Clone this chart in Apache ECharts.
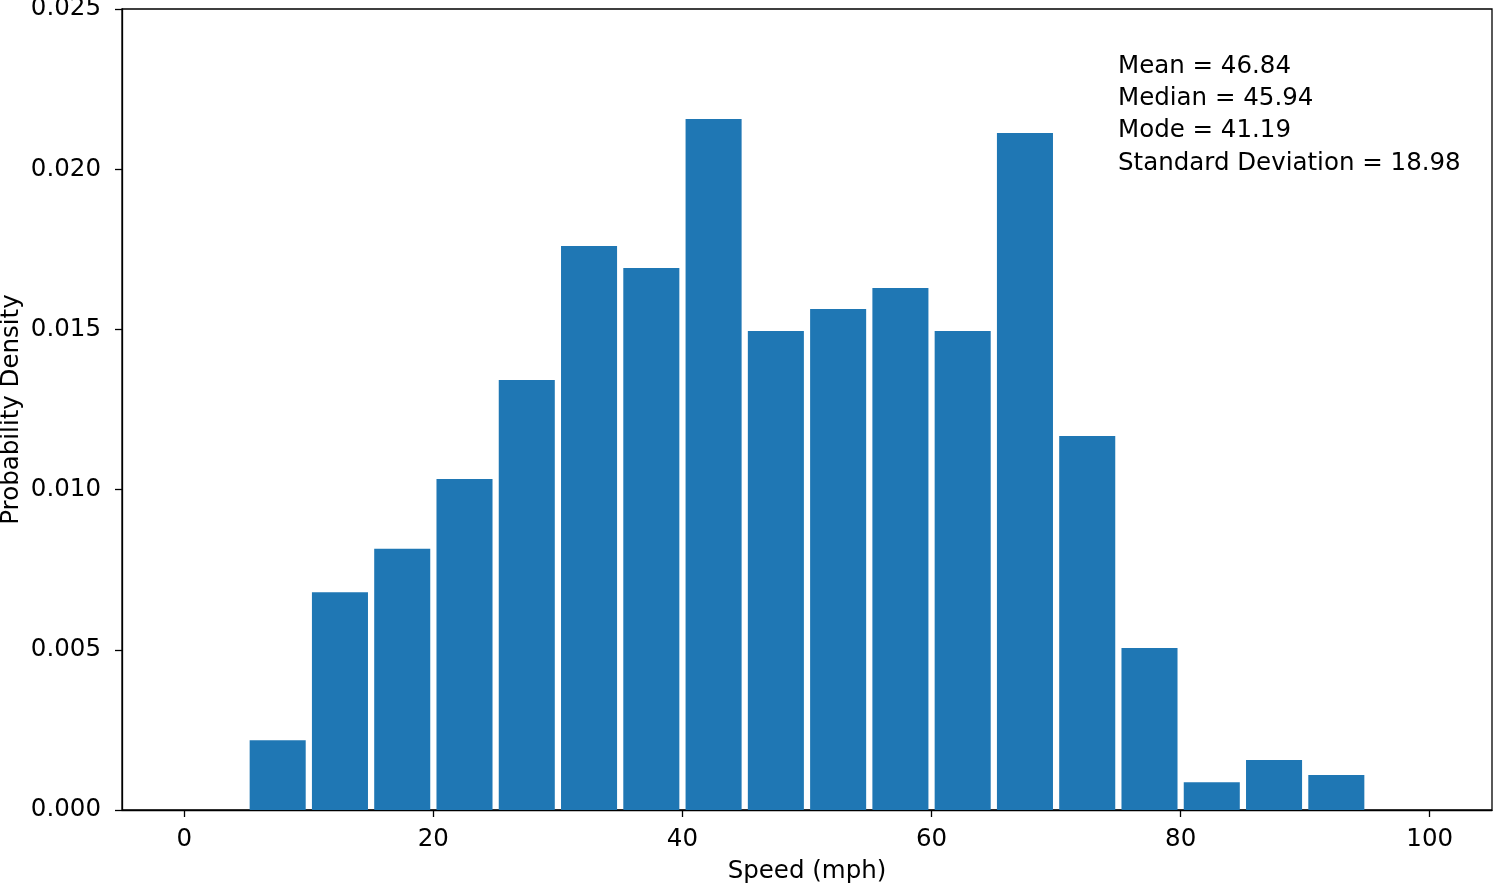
<!DOCTYPE html>
<html>
<head>
<meta charset="utf-8">
<script src="https://cdn.jsdelivr.net/npm/echarts@6/dist/echarts.min.js"></script>
<style>html,body{margin:0;padding:0;background:#fff;}#c{width:1496px;height:883px;}</style>
</head>
<body>
<div id="c"></div>
<script>
// Histogram bins (mph) and probability densities
const binStarts = [0, 5, 10, 15, 20, 25, 30, 35, 40, 45, 50, 55, 60, 65, 70, 75, 80, 85, 90, 95];
const binEnds   = [5, 10, 15, 20, 25, 30, 35, 40, 45, 50, 55, 60, 65, 70, 75, 80, 85, 90, 95, 100];
const densities = [0, 0.00218, 0.00680, 0.00815, 0.01033, 0.01342, 0.01760, 0.01692, 0.02157, 0.01495,
                   0.01564, 0.01629, 0.01495, 0.02113, 0.01167, 0.00506, 0.00087, 0.00156, 0.00109, 0];
const xTicks = [0, 20, 40, 60, 80, 100];
const yTicks = [0, 0.005, 0.010, 0.015, 0.020, 0.025];
const statsLines = ['Mean = 46.84', 'Median = 45.94', 'Mode = 41.19', 'Standard Deviation = 18.98'];
const xTitle = 'Speed (mph)';
const yTitle = 'Probability Density';

const FONT = 'DejaVu Sans';
const FS = 24.5;
const chart = echarts.init(document.getElementById('c'), null, {renderer: 'canvas'});
const data = binStarts.map((s, i) => [s, binEnds[i], densities[i]]);

chart.setOption({
  animation: false,
  backgroundColor: '#ffffff',
  grid: {left: 122, right: 4, top: 9, bottom: 73, outerBoundsMode: 'none', containLabel: false,
         show: true, borderColor: '#000', borderWidth: 1.3, backgroundColor: 'transparent'},
  xAxis: {
    type: 'value', min: -5, max: 105,
    name: xTitle, nameLocation: 'middle', nameGap: 49, nameMoveOverlap: false,
    nameTextStyle: {fontFamily: FONT, fontSize: FS, color: '#000'},
    axisLine: {show: true, onZero: false, lineStyle: {color: '#000', width: 1.3}},
    axisTick: {show: true, length: 7, lineStyle: {color: '#000', width: 1.3}, customValues: xTicks},
    axisLabel: {fontFamily: FONT, fontSize: FS, color: '#000', margin: 17, customValues: xTicks},
    splitLine: {show: false}
  },
  yAxis: {
    type: 'value', min: 0, max: 0.025, interval: 0.005,
    name: yTitle, nameLocation: 'middle', nameGap: 98, nameRotate: 90, nameMoveOverlap: false,
    nameTextStyle: {fontFamily: FONT, fontSize: FS, color: '#000'},
    axisLine: {show: true, onZero: false, lineStyle: {color: '#000', width: 1.3}},
    axisTick: {show: true, length: 7, lineStyle: {color: '#000', width: 1.3}},
    axisLabel: {fontFamily: FONT, fontSize: FS, color: '#000', margin: 21,
      formatter: v => v.toFixed(3)},
    splitLine: {show: false}
  },
  series: [{
    type: 'custom',
    data: data,
    encode: {x: [0, 1], y: 2},
    renderItem: function (params, api) {
      const s = api.value(0), e = api.value(1), h = api.value(2);
      if (!h) return null;
      const w = e - s;
      const p0 = api.coord([s + w * 0.05, h]);
      const p1 = api.coord([e - w * 0.05, 0]);
      return {
        type: 'rect',
        shape: {x: p0[0], y: p0[1], width: p1[0] - p0[0], height: p1[1] - p0[1]},
        style: {fill: '#1f77b4'}
      };
    }
  }],
  graphic: statsLines.map((t, i) => ({
    type: 'text', left: 1118, top: 54 + i * 32.3,
    style: {text: t, fontFamily: FONT, fontSize: FS, fill: '#000'}
  }))
});
</script>
</body>
</html>
